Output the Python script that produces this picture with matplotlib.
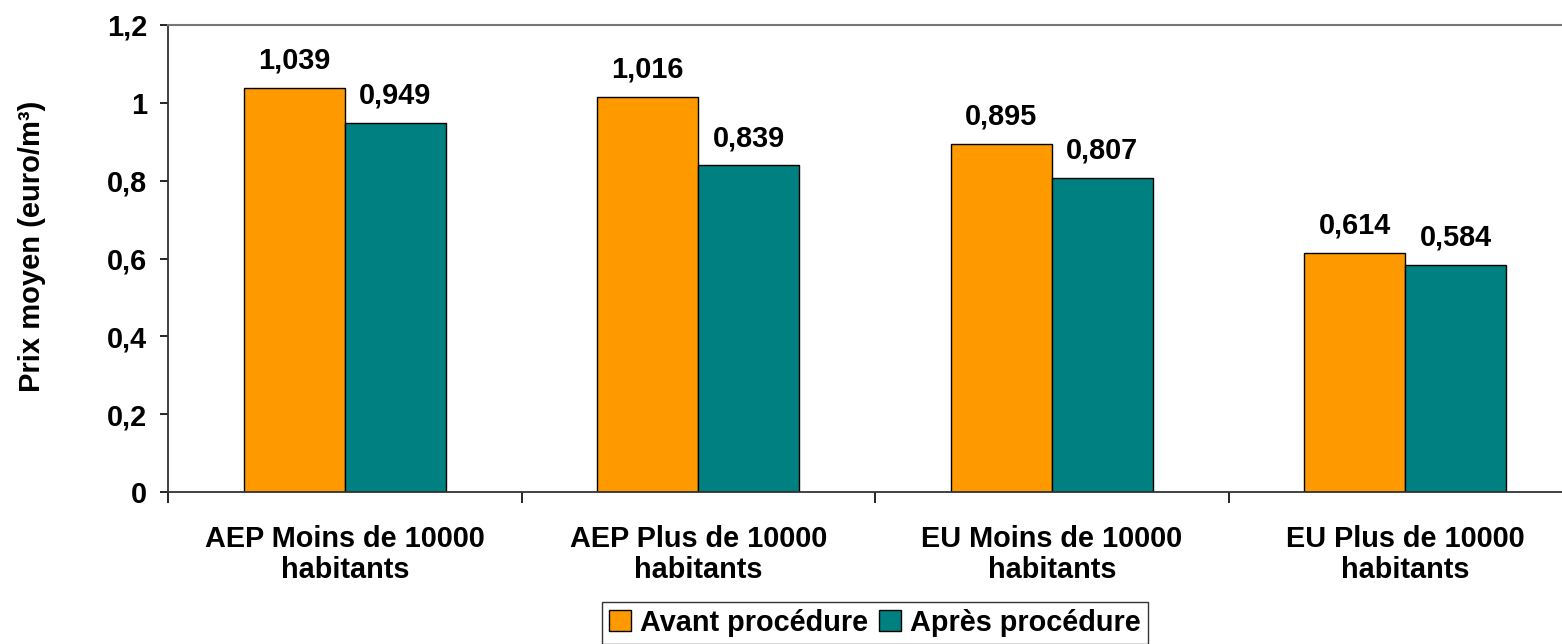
"""Prix moyen de l'eau avant / après procédure, par catégorie."""

import matplotlib

matplotlib.use("Agg")
import matplotlib.pyplot as plt
import numpy as np

categories = [
    "AEP Moins de 10000\nhabitants",
    "AEP Plus de 10000\nhabitants",
    "EU Moins de 10000\nhabitants",
    "EU Plus de 10000\nhabitants",
]
avant = [1.039, 1.016, 0.895, 0.614]
apres = [0.949, 0.839, 0.807, 0.584]
series_names = ["Avant procédure", "Après procédure"]
y_ticks = [0, 0.2, 0.4, 0.6, 0.8, 1.0, 1.2]


def fmt(v: float, digits: int) -> str:
    s = f"{v:.{digits}f}".rstrip("0").rstrip(".") if digits else f"{v:g}"
    return s.replace(".", ",")


plt.rcParams["font.family"] = ["Liberation Sans", "DejaVu Sans"]
plt.rcParams["font.weight"] = "bold"
FS = 20.8

fig = plt.figure(figsize=(15.62, 6.44), dpi=100)
ax = fig.add_axes([168 / 1562, 1 - 492 / 644, 1414 / 1562, 467 / 644])

x = np.arange(len(categories))
width = 0.2857
colors = ["#FF9900", "#008080"]
for values, offset, color, name in zip([avant, apres], [-width / 2, width / 2], colors, series_names):
    bars = ax.bar(x + offset, values, width, color=color, edgecolor="black", linewidth=1.0, label=name)
    for bar, v in zip(bars, values):
        ax.annotate(
            f"{v:.3f}".replace(".", ","),
            (bar.get_x() + bar.get_width() / 2, v),
            xytext=(0, 14),
            textcoords="offset points",
            ha="center",
            va="baseline",
            fontsize=FS,
            fontweight="bold",
        )

ax.set_xlim(-0.5, len(categories) - 0.5)
ax.set_ylim(0, 1.2)
ax.set_yticks(y_ticks)
ax.set_yticklabels([fmt(v, 1) for v in y_ticks], fontsize=FS, fontweight="bold")
ax.set_xticks(x)
ax.set_xticklabels(categories, fontsize=FS, fontweight="bold", linespacing=1.1)
ax.set_xticks(np.arange(len(categories) + 1) - 0.5, minor=True)
ax.tick_params(axis="x", which="major", length=0, pad=24)
ax.tick_params(axis="x", which="minor", length=8, width=1.2, direction="out")
ax.tick_params(axis="y", length=6, width=1.2, direction="out", pad=9)

ax.set_ylabel("Prix moyen (euro/m³)", fontsize=21, fontweight="bold")
ax.yaxis.set_label_coords(-0.0865, 0.527)

for side in ["left", "bottom"]:
    ax.spines[side].set_color("#333333")
    ax.spines[side].set_linewidth(1.3)
ax.spines["top"].set_color("#777777")
ax.spines["top"].set_linewidth(1.5)
ax.spines["right"].set_visible(False)

leg = ax.legend(
    loc="upper center",
    bbox_to_anchor=(0.5, -0.235),
    ncol=2,
    fontsize=FS,
    frameon=True,
    fancybox=False,
    edgecolor="black",
    handlelength=0.75,
    handleheight=0.75,
    handletextpad=0.3,
    columnspacing=0.4,
    borderpad=0.25,
    borderaxespad=0,
)
leg.get_frame().set_linewidth(1.0)

fig.savefig("out.png", dpi=100)
